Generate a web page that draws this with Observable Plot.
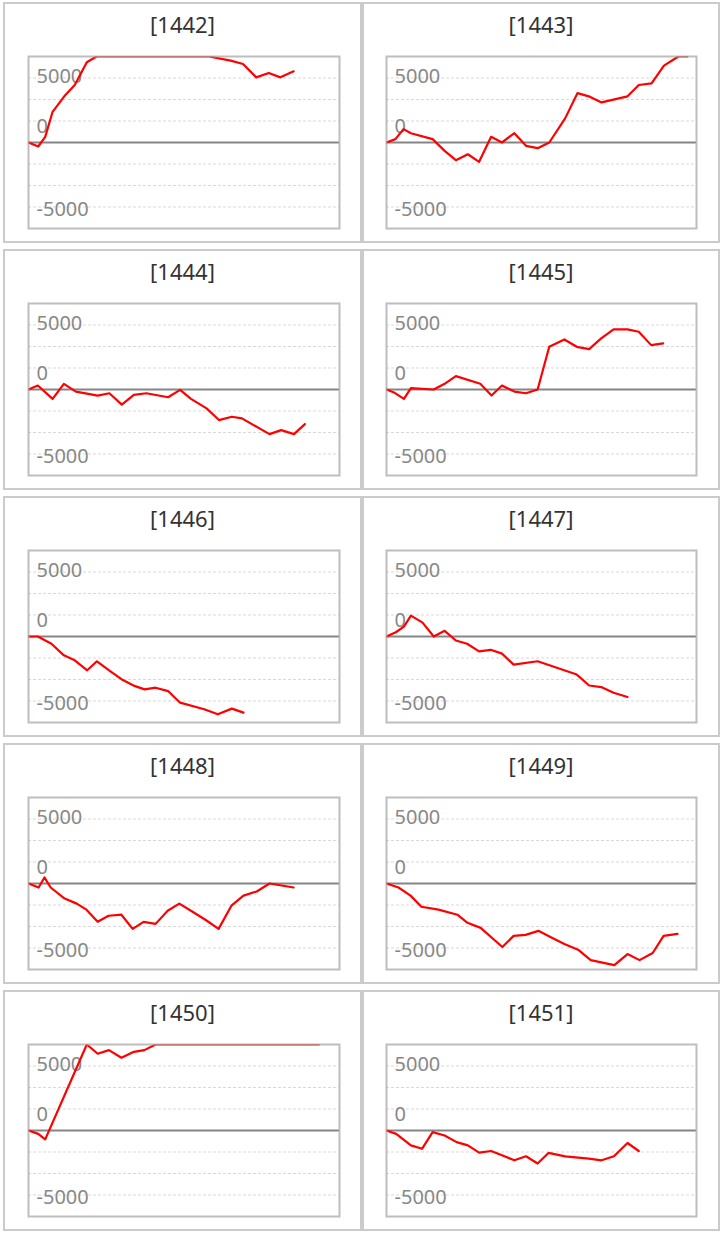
<!DOCTYPE html>
<html><head><meta charset="utf-8">
<script src="https://cdn.jsdelivr.net/npm/d3@7"></script>
<script src="https://cdn.jsdelivr.net/npm/@observablehq/plot@0.6"></script>
<style>
body{margin:0;background:#fff;font-family:"Noto Sans",sans-serif;}
#grid{position:relative;width:726px;height:1234px;overflow:hidden;}
.panel{position:absolute;box-sizing:border-box;border:2px solid #cbcbcb;background:#fff;}
.title{height:41px;line-height:41px;text-align:center;font-size:22px;color:#333;font-family:"Noto Sans",sans-serif;}
svg{display:block;}
</style></head><body><div id="grid"></div>
<script>
// machine numbers
const machines = ["1442","1443","1444","1445","1446","1447","1448","1449","1450","1451"];

// games played (x) and medal difference (y) per machine
const games1442 = [0,250,430,620,920,1190,1500,1750,4640,5200,5520,5860,6180,6480,6820];
const diff1442  = [0,-310,440,2380,3580,4460,6220,6667,6667,6350,6090,5050,5390,5050,5520];

const games1443 = [0,230,440,630,1190,1500,1790,2100,2390,2700,2980,3300,3600,3900,4200,4610,4930,5220,5550,6220,6510,6840,7160,7460,7540,7760];
const diff1443  = [0,260,1040,720,260,-650,-1370,-910,-1500,440,0,720,-260,-440,0,1870,3830,3580,3110,3580,4460,4580,5960,6530,6667,6667];

const games1444 = [0,240,620,910,1220,1780,2080,2400,2710,3030,3590,3900,4180,4580,4900,5230,5490,6200,6500,6830,7110];
const diff1444  = [0,310,-730,440,-160,-470,-290,-1170,-420,-290,-600,-30,-730,-1460,-2370,-2110,-2240,-3460,-3150,-3460,-2680];

const games1445 = [0,210,450,630,1220,1500,1790,2420,2710,2980,3300,3600,3900,4200,4590,4910,5230,5540,5860,6220,6510,6830,7140];
const diff1445  = [0,-260,-730,100,0,440,1040,440,-470,310,-160,-290,0,3310,3880,3310,3130,3960,4660,4660,4480,3440,3570];

const games1446 = [0,240,590,910,1190,1510,1760,2100,2400,2740,2990,3270,3590,3900,4520,4870,5230,5530];
const diff1446  = [0,0,-560,-1460,-1850,-2620,-1920,-2690,-3330,-3850,-4100,-3970,-4230,-5130,-5640,-6030,-5590,-5900];

const games1447 = [0,240,450,630,930,1220,1500,1790,2080,2390,2690,2980,3280,3900,4910,5230,5540,5860,6220];
const diff1447  = [0,330,770,1620,1080,0,440,-310,-560,-1150,-1030,-1330,-2180,-1920,-2950,-3800,-3920,-4360,-4690];

const games1448 = [0,260,410,570,930,1240,1490,1780,2060,2390,2680,2960,3270,3580,3880,4220,4550,4890,5220,5530,5870,6200,6820];
const diff1448  = [0,-310,470,-310,-1170,-1560,-2030,-2970,-2500,-2420,-3520,-2970,-3130,-2110,-1560,-2190,-2810,-3520,-1720,-940,-620,0,-310];

const games1449 = [0,310,620,900,1340,1830,2090,2430,2990,3280,3590,3920,4280,4590,4960,5270,5880,6220,6530,6870,7150,7510];
const diff1449  = [0,-310,-940,-1800,-2030,-2420,-3050,-3440,-4920,-4060,-3980,-3670,-4220,-4690,-5160,-5940,-6330,-5470,-5940,-5390,-4060,-3910];

const games1450 = [0,250,430,1500,1780,2070,2390,2710,2980,3270,7470];
const diff1450  = [0,-260,-690,6667,5950,6230,5640,6100,6230,6667,6667];

const games1451 = [0,250,630,920,1190,1500,1810,2100,2390,2700,2980,3300,3600,3900,4180,4610,5220,5550,5870,6220,6510];
const diff1451  = [0,-260,-1150,-1410,-130,-390,-900,-1150,-1720,-1590,-1920,-2310,-2000,-2560,-1740,-2000,-2180,-2310,-2000,-970,-1590];

const series = {
  "1442":[games1442,diff1442], "1443":[games1443,diff1443], "1444":[games1444,diff1444],
  "1445":[games1445,diff1445], "1446":[games1446,diff1446], "1447":[games1447,diff1447],
  "1448":[games1448,diff1448], "1449":[games1449,diff1449], "1450":[games1450,diff1450],
  "1451":[games1451,diff1451]
};

// axis definitions
const xDomain = [0, 8000];
const yDomain = [-6667, 6667];
const yTopLabel = ["5000"];
const yZeroLabel = ["0"];
const yBottomLabel = ["-5000"];
const gridValues = [-5000, -3333, -1667, 1667, 3333, 5000];

// layout
const colLeft = [3, 362], colWidth = [359, 358];
const rowTop = [2, 249, 496, 743, 990];
const panelH = 241;
const mLeft = [23, 22], mRight = [21, 22];

const labelStyle = {frameAnchor: "left", dx: 8, textAnchor: "start", lineAnchor: "middle", fontSize: 20, fill: "#888"};

const grid = document.getElementById("grid");
machines.forEach((m, i) => {
  const col = i % 2, row = Math.floor(i / 2);
  const panel = document.createElement("div");
  panel.className = "panel";
  panel.style.left = colLeft[col] + "px";
  panel.style.top = rowTop[row] + "px";
  panel.style.width = colWidth[col] + "px";
  panel.style.height = panelH + "px";
  const title = document.createElement("div");
  title.className = "title";
  title.textContent = "[" + m + "]";
  panel.appendChild(title);

  const [gx, gy] = series[m];
  const data = gx.map((g, k) => ({games: g, diff: gy[k]}));
  const w = colWidth[col] - 4;
  const chart = Plot.plot({
    width: w,
    height: 196,
    marginTop: 11,
    marginBottom: 13,
    marginLeft: mLeft[col],
    marginRight: mRight[col],
    style: {fontFamily: '"Noto Sans", sans-serif', background: "transparent", overflow: "visible"},
    x: {domain: xDomain, axis: null},
    y: {domain: yDomain, axis: null},
    marks: [
      Plot.ruleY(gridValues, {stroke: "#d9d9d9", strokeWidth: 1, strokeDasharray: "3,2"}),
      Plot.ruleY([0], {stroke: "#858585", strokeWidth: 2}),
      Plot.text(yTopLabel, {...labelStyle, y: d => +d, text: d => d, dy: -1}),
      Plot.text(yZeroLabel, {...labelStyle, y: d => +d, text: d => d, dy: -16}),
      Plot.text(yBottomLabel, {...labelStyle, y: d => +d, text: d => d, dy: 3}),
      Plot.line(data, {x: "games", y: "diff", stroke: "#ff0000", strokeWidth: 2.2, clip: true}),
      Plot.frame({stroke: "#a8a8a8", strokeOpacity: 0.75, strokeWidth: 2})
    ]
  });
  panel.appendChild(chart);
  grid.appendChild(panel);
});
</script>
</body></html>
